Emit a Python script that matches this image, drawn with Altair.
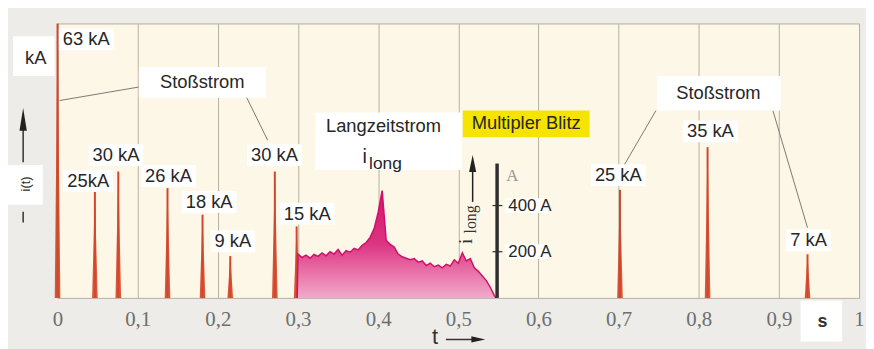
import altair as alt
import pandas as pd

# ---------------- data ----------------
# impulse (Stoßstrom) peaks: time in s, current in kA
peak_t = [0.0, 0.0466, 0.0758, 0.1372, 0.1809, 0.2155, 0.2711, 0.2983, 0.7017, 0.811, 0.9357]
peak_kA = [63, 24.4, 29, 25.2, 19.1, 9.6, 29, 16.4, 24.8, 34.6, 10]
peak_labels = ["63 kA", "25kA", "30 kA", "26 kA", "18 kA", "9 kA", "30 kA", "15 kA", "25 kA", "35 kA", "7 kA"]

# long-duration current (Langzeitstrom) in A
long_t = [0.299, 0.300, 0.305, 0.310, 0.315, 0.320, 0.325, 0.330, 0.335, 0.340, 0.345,
          0.350, 0.355, 0.360, 0.365, 0.370, 0.375, 0.380, 0.385, 0.390, 0.395,
          0.400, 0.405, 0.410, 0.415, 0.420, 0.425, 0.430, 0.435, 0.440, 0.445,
          0.450, 0.455, 0.460, 0.465, 0.470, 0.475, 0.480, 0.485, 0.490, 0.495,
          0.500, 0.505, 0.510, 0.515, 0.520, 0.525, 0.530, 0.535, 0.540, 0.545, 0.547]
long_A = [0, 190, 175, 185, 172, 188, 180, 195, 182, 200, 190,
          210, 185, 205, 198, 215, 208, 228, 240, 262, 300,
          370, 465, 250, 232, 220, 190, 178, 172, 165, 170,
          155, 160, 140, 150, 135, 142, 130, 145, 138, 165,
          150, 195, 160, 170, 130, 115, 95, 75, 45, 10, 0]

x_ticks = [0, 0.1, 0.2, 0.3, 0.4, 0.5, 0.6, 0.7, 0.8, 0.9, 1.0]
long_ticks = [200, 400]
long_tick_labels = ["200 A", "400 A"]

# ---------------- layout helpers ----------------
PX_T = 1 / 809.0          # seconds per pixel
PX_K = 63 / 277.0         # kA per pixel

XS = alt.Scale(domain=[0, 1], nice=False, zero=False)
KS = alt.Scale(domain=[0, 63], nice=False, zero=False)
AS = alt.Scale(domain=[0, 1189], nice=False, zero=False)

SANS = "Liberation Sans"
SERIF = "Liberation Serif"
TXT = "#262626"

XAXIS = alt.Axis(
    values=x_ticks, grid=True, gridColor="#b9b1a0", gridWidth=1, ticks=False,
    domain=False, labelFont=SERIF, labelFontSize=21, labelColor="#6e6e6e",
    labelPadding=11, labelFlush=False,
    labelExpr="replace(format(datum.value, '.1~f'), '.', ',')", title=None)


def X(f="t"):
    return alt.X(f"{f}:Q", scale=XS, axis=XAXIS)


def YK(f="k"):
    return alt.Y(f"{f}:Q", scale=KS, axis=None)


def YA(f="a"):
    return alt.Y(f"{f}:Q", scale=AS, axis=None)


def text_width(s, size):
    w = {"k": 0.5, "A": 0.667, " ": 0.278}
    return sum(w.get(c, 0.556) for c in s) * size


# ---------------- peaks ----------------
tri_rows = []
for i, (t, k) in enumerate(zip(peak_t, peak_kA)):
    tri_rows += [{"id": i, "t": t - 0.0035, "k": 0}, {"id": i, "t": t, "k": k},
                 {"id": i, "t": t + 0.0035, "k": 0}]
tri_df = pd.DataFrame(tri_rows)
peak_df = pd.DataFrame({"t": peak_t, "k": peak_kA, "z": [0] * len(peak_t)})

RED = "#d4462a"
axis_layer = alt.Chart(peak_df).mark_rule(color=RED, strokeWidth=2).encode(
    x=X(), y=YK("k"), y2="z:Q")
tri_layer = alt.Chart(tri_df).mark_area(color=RED, opacity=0.9).encode(
    x=X(), y=YK("k"), detail="id:N")

# ---------------- long current ----------------
long_df = pd.DataFrame({"t": long_t, "a": long_A})
grad = alt.Gradient(gradient="linear", x1=0, x2=0, y1=0, y2=1, stops=[
    alt.GradientStop(color="#d2136b", offset=0),
    alt.GradientStop(color="#dc3582", offset=0.5),
    alt.GradientStop(color="#f2aacb", offset=1)])
long_area = alt.Chart(long_df).mark_area(color=grad).encode(x=X(), y=YA())
long_line = alt.Chart(long_df).mark_line(color="#d0106a", strokeWidth=1.5).encode(x=X(), y=YA())

# inner axis for i_long
inner_axis = alt.Chart(pd.DataFrame({"t": [0.5484], "a": [0], "a2": [582]})).mark_rule(
    color="#2e2e2e", strokeWidth=3.5).encode(x=X(), y=YA("a"), y2="a2:Q")
tick_df = pd.DataFrame({"t": [0.5427] * 2, "t2": [0.555] * 2, "a": long_ticks})
inner_ticks = alt.Chart(tick_df).mark_rule(color="#2e2e2e", strokeWidth=1.2).encode(
    x=X(), x2="t2:Q", y=YA("a"))
tl_box_df = pd.DataFrame({"t": [0.5587] * 2, "t2": [0.6118] * 2,
                          "a": [v - 32 for v in long_ticks], "a2": [v + 32 for v in long_ticks]})
inner_boxes = alt.Chart(tl_box_df).mark_rect(color="white").encode(
    x=X(), x2="t2:Q", y=YA("a"), y2="a2:Q")
inner_labels = alt.Chart(pd.DataFrame({"t": [0.5624] * 2, "a": long_ticks, "s": long_tick_labels})).mark_text(
    align="left", baseline="middle", font=SANS, fontSize=17, color=TXT).encode(
    x=X(), y=YA("a"), text="s:N")
inner_unit = alt.Chart(pd.DataFrame({"t": [0.5674], "a": [528], "s": ["A"]})).mark_text(
    align="center", baseline="middle", font=SERIF, fontSize=17, color="#9a9a9a").encode(
    x=X(), y=YA("a"), text="s:N")
ilong_i = alt.Chart(pd.DataFrame({"t": [0.5093], "a": [245], "s": ["i"]})).mark_text(
    align="center", baseline="middle", font=SERIF, fontSize=19, color="#333333", angle=270).encode(
    x=X(), y=YA("a"), text="s:N")
ilong_sub = alt.Chart(pd.DataFrame({"t": [0.5160], "a": [340], "s": ["long"]})).mark_text(
    align="center", baseline="middle", font=SERIF, fontSize=16, color="#333333", angle=270).encode(
    x=X(), y=YA("a"), text="s:N")
ilong_arrow = alt.Chart(pd.DataFrame({"t": [0.5179], "a": [416], "a2": [560]})).mark_rule(
    color="#222222", strokeWidth=1.5).encode(x=X(), y=YA("a"), y2="a2:Q")
ilong_head = alt.Chart(pd.DataFrame({"t": [0.5179], "a": [582]})).mark_point(
    shape="M0,-1L0.42,1L-0.42,1Z", filled=True, size=290, color="#222222", opacity=1).encode(
    x=X(), y=YA("a"))

# ---------------- leader lines ----------------
lead_df = pd.DataFrame({
    "t": [0.0025, 0.2349, 0.7466, 0.8925],
    "k": [45.3, 46.4, 43.0, 43.0],
    "t2": [0.1014, 0.2621, 0.7070, 0.9357],
    "k2": [48.4, 36.2, 30.5, 16.1]})
leaders = alt.Chart(lead_df).mark_rule(color="#7a7a72", strokeWidth=1).encode(
    x=X(), x2="t2:Q", y=YK("k"), y2="k2:Q")

# ---------------- label boxes ----------------
label_pos_t = [0.0358, 0.0383, 0.0729, 0.1384, 0.1891, 0.2188, 0.2707, 0.3115, 0.6996, 0.8145, 0.9370]
label_pos_k = [59.36, 26.83, 32.75, 27.98, 22.06, 12.96, 32.75, 19.33, 28.20, 38.21, 13.19]
LBL_SIZE = 18.5
box_rows = []
for s, t, k in zip(peak_labels, label_pos_t, label_pos_k):
    hw = (text_width(s, LBL_SIZE) / 2 + 4) * PX_T
    hh = 11 * PX_K
    box_rows.append({"t": t - hw, "t2": t + hw, "k": k - hh, "k2": k + hh})
# Stoßstrom (left/right), Langzeitstrom, kA unit, i(t), s unit
box_rows += [
    {"t": 0.1014, "t2": 0.2596, "k": 45.94, "k2": 52.99},
    {"t": 0.7478, "t2": 0.9023, "k": 42.99, "k2": 50.95},
    {"t": 0.3214, "t2": 0.5043, "k": 29.34, "k2": 42.53},
    {"t": -0.0556, "t2": -0.0037, "k": 50.95, "k2": 60.04},
    {"t": -0.0618, "t2": -0.0185, "k": 21.38, "k2": 30.48},
    {"t": 0.9271, "t2": 0.9790, "k": -10.0, "k2": -0.68},
]
boxes = alt.Chart(pd.DataFrame(box_rows)).mark_rect(color="white").encode(
    x=X(), x2="t2:Q", y=YK("k"), y2="k2:Q")
yellow = alt.Chart(pd.DataFrame({"t": [0.5056], "t2": [0.6638], "k": [36.85], "k2": [42.99]})).mark_rect(
    color="#f5e300").encode(x=X(), x2="t2:Q", y=YK("k"), y2="k2:Q")

# ---------------- texts ----------------
peak_text = alt.Chart(pd.DataFrame({"t": label_pos_t, "k": label_pos_k, "s": peak_labels})).mark_text(
    align="center", baseline="middle", font=SANS, fontSize=LBL_SIZE, color=TXT).encode(
    x=X(), y=YK("k"), text="s:N")

ann_df = pd.DataFrame({
    "t": [0.1805, 0.8245, 0.4067, 0.5847, -0.0272],
    "k": [49.58, 47.08, 39.35, 40.03, 55.04],
    "s": ["Stoßstrom", "Stoßstrom", "Langzeitstrom", "Multipler Blitz", "kA"]})
ann_text = alt.Chart(ann_df).mark_text(
    align="center", baseline="middle", font=SANS, fontSize=18.5, color=TXT).encode(
    x=X(), y=YK("k"), text="s:N")

ilong2_i = alt.Chart(pd.DataFrame({"t": [0.3832], "k": [32.3], "s": ["i"]})).mark_text(
    align="center", baseline="middle", font=SANS, fontSize=20, color=TXT).encode(
    x=X(), y=YK("k"), text="s:N")
ilong2_sub = alt.Chart(pd.DataFrame({"t": [0.4091], "k": [30.8], "s": ["long"]})).mark_text(
    align="center", baseline="middle", font=SANS, fontSize=17.5, color=TXT).encode(
    x=X(), y=YK("k"), text="s:N")

it_text = alt.Chart(pd.DataFrame({"t": [-0.0396], "k": [26.16], "s": ["i(t)"]})).mark_text(
    align="center", baseline="middle", font=SANS, fontSize=13, color="#333333", angle=270).encode(
    x=X(), y=YK("k"), text="s:N")
it_arrow = alt.Chart(pd.DataFrame({"t": [-0.0429, -0.0429], "k": [31.16, 17.29], "k2": [39.6, 19.79]})).mark_rule(
    color="#333333", strokeWidth=1.5).encode(x=X(), y=YK("k"), y2="k2:Q")
it_head = alt.Chart(pd.DataFrame({"t": [-0.0429], "k": [41.0]})).mark_point(
    shape="M0,-1L0.32,1L-0.32,1Z", filled=True, size=529, color="#222222", opacity=1).encode(
    x=X(), y=YK("k"))

s_text = alt.Chart(pd.DataFrame({"t": [0.9543], "k": [-5.46], "s": ["s"]})).mark_text(
    align="center", baseline="middle", font=SANS, fontSize=18, fontWeight="bold", color="#333333").encode(
    x=X(), y=YK("k"), text="s:N")
t_text = alt.Chart(pd.DataFrame({"t": [0.4710], "k": [-9.0], "s": ["t"]})).mark_text(
    align="center", baseline="middle", font=SANS, fontSize=22, color="#333333").encode(
    x=X(), y=YK("k"), text="s:N")
t_arrow = alt.Chart(pd.DataFrame({"t": [0.4845], "t2": [0.5200], "k": [-9.55]})).mark_rule(
    color="#333333", strokeWidth=1.5).encode(x=X(), x2="t2:Q", y=YK("k"))
t_head = alt.Chart(pd.DataFrame({"t": [0.5250], "k": [-9.55]})).mark_point(
    shape="M1,0L-1,-0.45L-1,0.45Z", filled=True, size=196, color="#222222", opacity=1).encode(
    x=X(), y=YK("k"))

chart = alt.layer(
    axis_layer, tri_layer, long_area, long_line, leaders,
    inner_axis, inner_ticks, ilong_arrow, ilong_head,
    boxes, yellow, inner_boxes,
    peak_text, ann_text, ilong2_i, ilong2_sub,
    inner_labels, inner_unit, ilong_i, ilong_sub,
    it_text, it_arrow, it_head, s_text, t_text, t_arrow, t_head,
).resolve_scale(y="independent").properties(
    width=809, height=277,
    autosize=alt.AutoSizeParams(type="none"),
    padding={"left": 50, "top": 14, "right": 7, "bottom": 50},
    background="#edece8",
).configure_view(fill="#fcf7e6", stroke="#b7b0a2", strokeWidth=1)

chart.save("out.html", embed_options={"renderer": "svg", "actions": False})
